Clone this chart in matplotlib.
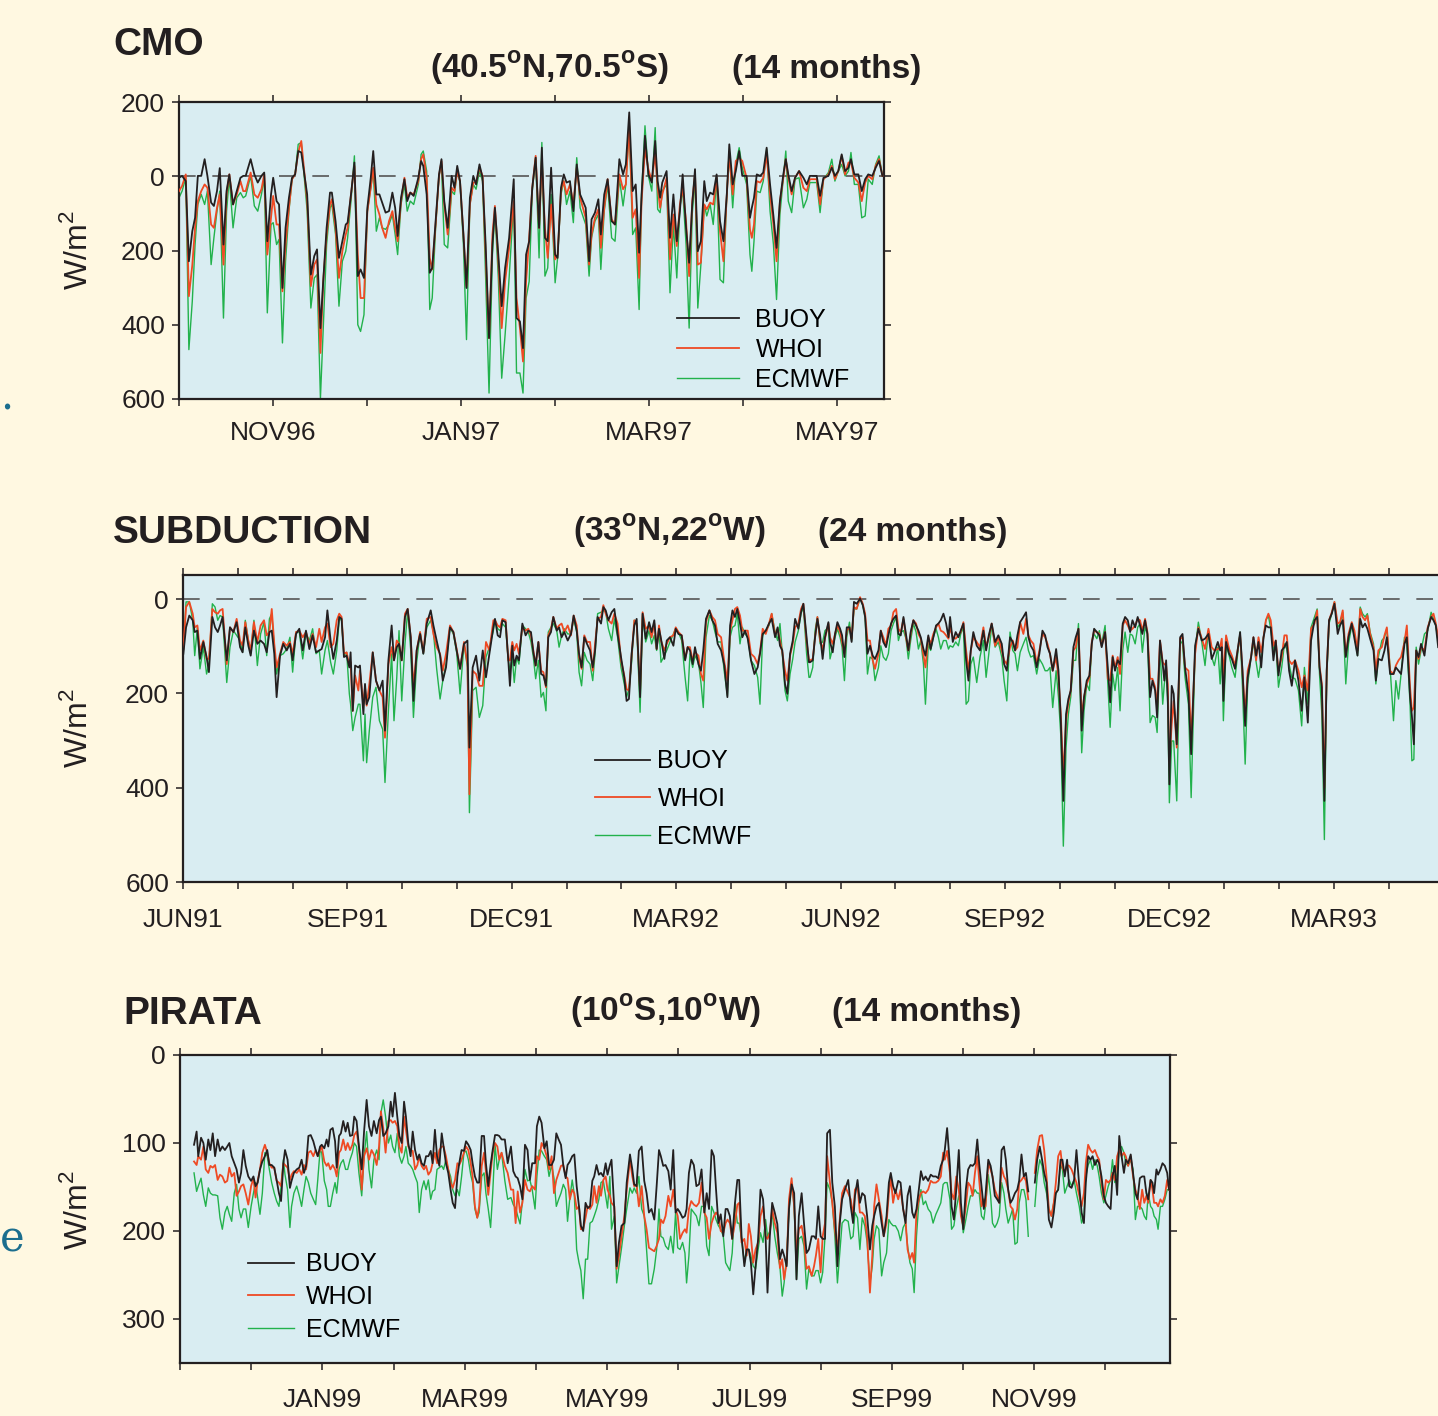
import numpy as np
import matplotlib
matplotlib.use("Agg")
import matplotlib.pyplot as plt

plt.rcParams['font.family'] = ['Liberation Sans', 'DejaVu Sans']
plt.rcParams['mathtext.fontset'] = 'custom'
plt.rcParams['mathtext.rm'] = 'Liberation Sans'
plt.rcParams['mathtext.bf'] = 'Liberation Sans:bold'

BG = '#FFF8E1'
AX_BG = '#D9EDF2'
BLACK = '#231F20'
RED = '#EF4A24'
GREEN = '#22B24C'
TEAL = '#1B6E8E'
MONTH = 30.44

series_names = ['BUOY', 'WHOI', 'ECMWF']

# ---------------- CMO (days from 1 Oct 1996, W/m2, positive = heat loss) ----------------
cmo_day = [0.0,1.0,2.2,3.2,4.3,5.2,6.1,7.2,8.3,9.2, 10.4,11.3,12.3,13.2,14.4,15.4,16.3,17.5,18.7,19.9,
           20.8,21.6,23.2,24.4,25.5,26.7,27.6,28.6,29.8,30.5, 31.6,32.4,33.5,34.5,35.6,36.6,37.6,38.6,39.6,41.5,
           42.7,43.8,44.7,45.8,46.7,47.8,48.9,49.5,50.7,51.8, 52.9,54.0,54.6,55.7,56.8,57.9,58.8,59.9,61.0,62.1,
           62.9,63.9,64.9,65.8,66.9,68.0,69.1,70.0,70.8,71.9, 73.0,73.9,74.9,76.0,
           77.5,78.4,79.1,80.2,81.2,82.0,83.1,84.2,85.0,85.9, 87.0,88.3,89.2,90.1,91.0,92.1,93.1,94.2,95.3,96.2,
           97.3,98.3,99.3,100.4,101.5,102.3,103.4,104.5,105.6,106.9, 108.4,109.3,110.4,111.4,112.4,113.4,114.4,115.5,116.6,117.5,
           118.5,119.4,120.5,121.8,122.6,123.7,124.6,125.5,126.6,127.7, 128.8,129.9,131.7,132.8,133.6,134.7,135.8,136.6,137.7,138.8,
           140.1,141.2,142.6,143.8,144.7,145.8,146.9,147.9,149.0,149.8, 150.9,152.0,153.1,
           154.2,155.0,155.8,156.5,157.9,159.0,160.1,161.2,162.2,163.1, 164.2,165.2,166.2,167.1,168.0,169.0,170.1,170.9,172.0,173.0,
           174.1,175.2,176.3,177.4,178.2,179.3,180.3,181.4,182.4,183.8, 184.9,185.5,186.2,187.1,188.2,189.2,190.3,191.4,192.5,193.5,
           194.6,195.7,196.5,197.3,198.4,199.5,200.8,202.2,203.3,204.3, 206.5,207.6,208.7,210.3,211.4,212.4,213.5,214.6,215.7,216.8,
           217.6,218.7,220.0,221.1,222.2,223.2,224.5,225.6,226.7,227.8]
cmo_buoy = [4,-1,13,229,148,112,-1,-1,-46,-1, 71,80,40,-22,184,40,-5,76,40,4,
            -1,-1,-46,-5,17,-1,-10,175,49,4, 67,76,301,139,58,4,-5,-68,-64,49,
            265,215,197,409,283,139,44,44,121,220, 175,130,125,49,-37,269,251,274,85,4,
            -68,49,49,71,98,94,44,85,161,58, 8,67,44,53,
            4,-41,-28,49,260,247,121,-5,-46,67, 139,-1,31,-28,13,157,301,58,-1,22,
            -32,4,184,436,184,85,211,350,247,166, 8,382,391,463,211,175,31,-50,139,-77,
            166,175,-23,211,220,31,-5,17,13,94, -32,49,85,229,116,98,62,157,49,8,
            121,130,-46,-5,-32,-172,40,22,206,49, -109,-5,17,
            -95,13,58,17,-14,166,49,175,94,-5, 139,233,76,-19,202,175,13,67,44,49,
            -5,121,175,49,-86,22,-14,-68,-1,-1, 112,85,58,-5,-1,-10,-77,22,107,193,
            67,-5,-46,-5,40,4,-14,4,22,-1, -1,53,4,-1,-23,-1,-14,-59,-14,-23,
            -46,-5,-5,40,8,-5,-1,-23,-41,-1]
cmo_whoi = [40,26,-5,323,240,139,67,40,22,31, 130,139,85,49,238,49,-5,76,49,13,
            40,40,-10,49,58,35,-5,211,112,53, 130,130,310,184,85,8,-5,-64,-95,67,
            296,238,224,476,283,157,76,62,139,274, 202,157,139,49,-28,211,328,328,94,31,
            -23,76,103,139,166,121,94,139,175,67, 4,58,44,49,
            13,-46,-59,4,220,251,130,-1,-41,76, 157,31,40,-14,13,157,296,76,17,17,
            -23,-1,211,436,157,80,229,409,283,193, 67,328,409,499,283,166,31,-55,139,-41,
            139,220,76,224,211,40,13,49,22,76, -23,58,112,238,157,112,89,193,85,8,
            116,130,-5,35,22,-136,112,89,274,67, -73,-19,13,
            -59,31,85,49,4,224,103,188,76,31, 121,269,67,-5,238,233,76,89,71,76,
            4,148,229,49,-59,49,-41,-50,-41,4, 143,166,130,13,17,4,-59,49,130,229,
            67,4,-46,4,49,4,-14,31,40,8, 8,76,8,-5,-28,8,-14,-55,-5,-37,
            -37,4,17,67,17,-1,8,-28,-46,-1]
cmo_ecmwf = [58,40,4,467,337,184,76,49,76,40, 238,166,94,40,382,94,4,139,58,44,
             58,53,-1,80,94,49,4,368,130,125, 184,170,449,229,94,8,-5,-86,-91,94,
             355,274,265,598,409,184,85,76,157,350, 229,202,166,67,-55,400,418,373,94,31,
             -14,148,112,139,143,130,103,157,211,76, 22,94,67,76,
             22,-59,-68,-14,359,328,139,-1,-32,184, 193,40,49,-14,17,184,440,76,22,35,
             -14,13,274,584,211,94,274,544,427,274, 67,530,530,584,328,283,40,-50,220,-91,
             269,247,49,287,220,49,13,76,40,125, -50,85,130,269,166,121,103,251,94,22,
             166,175,4,80,22,-131,157,139,359,49, -136,-1,40,
             -131,89,98,40,22,314,130,274,85,35, 184,409,103,4,355,238,76,107,76,130,
             4,278,287,49,-68,85,-32,-77,-23,22, 211,256,175,40,44,13,-73,94,184,332,
             103,4,-68,67,98,8,4,85,62,17, 17,98,8,-10,-46,13,-14,-32,-1,-14,
             -64,22,22,112,107,8,22,-32,-55,-1]
cmo_months = ['', 'NOV96', '', 'JAN97', '', 'MAR97', '', 'MAY97']

# ---------------- SUBDUCTION (days from 1 Jun 1991) ----------------
sub_day = [0.2,1.7,3.5,5.4,6.5,8.0,9.4,11.3,13.1,14.4, 16.3,17.8,19.3,20.6,22.0,24.3,26.1,28.0,29.8,31.7,
           33.1,34.6,36.3,37.6,39.4,41.3,43.1,45.0,46.5,48.0, 49.3,50.7,52.0,53.9,55.7,57.6,59.4,60.9,62.8,64.6,
           66.5,68.3,70.2,72.0,73.9,75.7,77.0,78.9,80.2,82.0, 83.5,85.4,86.8,88.1,89.4,90.9,92.4,93.1,94.3,95.6,
           97.4,98.3,100.2,101.1,102.0,103.5,105.4,107.2,109.1,110.9, 112.2,114.1,115.9,117.2,118.7,120.0,121.5,123.3,124.8,126.5,
           128.0,129.8,131.7,133.5,135.4,137.6,139.1,140.9,142.8,144.3, 146.1,148.3,150.2,152.0,153.9,156.1,158.0,159.1,160.9,162.8,
           164.6,166.5,168.3,170.2,172.4,
           173.3,174.8,176.1,177.4,179.2,180.7,181.6,182.9,184.0,185.3, 186.6,188.5,190.3,191.8,193.3,194.6,195.9,197.4,198.9,200.2,
           201.6,202.9,204.4,205.7,207.6,208.9,210.3,211.8,213.7,215.5, 217.0,218.7,220.0,221.4,222.9,224.4,226.1,227.6,228.9,230.3,
           232.2,233.5,234.8,236.3,238.1,239.6,241.4,243.3,245.1,246.4, 247.7,249.2,250.7,252.0,253.9,255.3,257.0,258.9,260.3,261.8,
           263.1,264.4,265.5,267.4,268.7,270.5,272.4,273.7,275.2,277.0, 278.9,280.3,281.6,283.1,284.4,286.3,287.7,289.0,290.5,292.4,
           294.0,295.5,297.0,298.9,300.7,302.4,303.9,305.2,306.6,307.9, 309.4,310.7,312.2,313.7,315.5,317.4,319.2,320.5,322.0,323.7,
           325.5,327.0,328.9,330.3,331.6,332.9,334.4,335.7,337.2,338.7, 340.0,341.8,343.3,344.6,346.4,347.7,
           348.3,349.8,351.1,352.4,353.9,355.3,356.6,358.5,359.4,360.9, 362.2,363.5,365.0,366.1,367.4,368.7,370.2,371.4,372.7,374.2,
           376.1,377.6,378.9,380.2,381.6,383.1,384.4,386.3,387.6,389.0, 390.5,391.8,393.3,394.6,396.1,397.4,398.7,400.2,401.6,402.9,
           404.2,405.7,407.2,408.5,409.8,411.3,412.4,414.0,415.3,416.8, 418.3,419.6,420.9,422.4,423.9,425.2,426.1,427.6,429.2,430.7,
           432.0,433.5,435.0,436.3,437.6,439.0,440.9,442.7,444.6,446.1, 447.6,449.2,451.1,452.9,454.8,456.1,457.6,459.4,460.9,462.2,
           463.5,465.0,466.8,468.3,469.6,470.9,472.4,474.2,475.7,477.4, 478.9,480.2,481.6,483.1,485.0,486.3,487.6,489.0,490.5,491.8,
           493.1,494.6,495.9,497.4,499.2,500.5,502.0,503.5,504.8,506.1, 507.6,509.0,510.3,512.2,513.7,515.0,516.4,517.7,519.2,520.5,
           522.0,
           523.3,524.8,526.1,527.4,528.9,530.3,531.6,532.9,534.4,535.7, 537.2,538.5,540.0,541.1,542.7,544.2,545.1,546.1,547.0,547.9,
           549.2,550.3,552.0,553.9,555.2,556.6,558.5,560.0,562.2,564.0, 565.9,567.7,569.6,571.4,572.9,574.8,576.1,577.0,577.9,579.4,
           581.1,582.6,584.4,587.2,588.5,590.0,591.4,593.3,594.6,596.1, 597.4,598.9,600.2,601.5,602.9,604.2,605.7,607.0,608.5,610.3,
           611.8,613.1,614.4,615.9,617.7,619.6,621.4,622.9,624.8,626.6, 628.5,630.0,631.3,632.6,634.0,635.3,636.6,638.1,639.6,641.4,
           642.7,644.2,645.9,647.4,649.2,650.7,652.4,653.9,655.2,656.6, 657.9,659.4,661.3,662.6,664.0,665.9,667.4,668.7,670.5,672.4,
           673.7,675.2,676.6,678.5,679.8,681.6,682.6,683.7,685.0,686.3, 687.7,689.6,691.4,693.3,694.6,695.9,697.2]
sub_buoy = [116,60,35,45,70,67,127,91,123,155, 38,60,70,56,38,130,60,70,49,102,
            113,60,99,120,67,95,88,95,113,70, 67,116,208,120,95,109,95,130,74,63,
            109,67,106,77,113,109,106,81,24,88, 127,88,38,42,123,120,145,113,237,141,
            145,141,244,180,223,208,113,173,194,173, 279,130,56,130,102,95,130,38,21,81,
            216,109,74,116,52,24,56,88,120,173, 145,60,70,109,148,95,88,315,145,120,
            173,109,166,116,60,
            42,77,81,45,49,130,184,99,141,120, 130,52,77,67,70,113,141,91,159,162,
            184,81,70,38,67,60,81,70,88,74, 35,67,116,145,81,95,109,145,109,38,
            52,17,24,45,28,21,74,123,166,216, 212,116,56,42,208,31,84,49,70,45,
            106,63,84,127,88,81,99,63,74,77, 130,102,109,138,102,138,152,109,42,24,
            45,56,95,109,141,208,56,24,38,21, 52,81,67,84,130,159,145,116,74,67,
            52,42,81,60,99,109,180,201,116,88, 42,63,28,10,81,134,
            134,130,81,42,77,127,81,49,91,113, 74,49,63,77,123,60,60,91,6,10,
            -1,13,38,116,99,120,127,109,67,91, 102,77,52,42,35,74,77,38,74,109,
            70,45,56,67,81,106,120,77,106,81, 56,52,45,31,52,81,38,91,70,81,
            67,52,130,173,109,70,99,109,67,109, 77,52,91,77,95,138,152,81,91,109,
            77,49,38,28,81,99,109,145,116,67, 77,102,116,152,106,152,258,428,244,212,
            194,102,81,63,279,208,173,162,95,63, 70,77,102,70,145,219,123,152,130,138,
            52,
            38,45,70,45,60,38,56,74,45,74, 208,173,194,251,88,138,173,130,208,393,
            184,201,308,81,74,145,201,329,99,63, 88,84,74,127,113,91,109,102,216,91,
            116,127,148,70,152,269,166,123,81,120, 91,145,81,56,60,60,130,88,162,109,
            102,91,152,184,130,173,237,166,262,88, 45,38,145,187,428,152,45,31,10,74,
            56,45,123,81,52,84,120,42,60,52, 63,84,109,173,127,130,109,81,159,159,
            145,152,159,95,81,208,247,308,109,123, 95,120,63,38,45,56,102]
sub_whoi = [106,17,6,31,60,56,109,88,127,127, 21,28,31,24,21,138,60,70,42,88,
            99,49,88,109,49,91,56,45,77,70, 21,95,145,116,91,99,91,116,70,67,
            81,70,95,74,102,63,91,60,52,102, 95,45,31,38,116,113,141,134,237,162,
            194,152,223,187,226,180,113,173,194,208, 294,138,102,130,88,95,130,31,21,81,
            187,109,70,113,42,38,74,102,116,152, 116,56,70,106,148,91,138,414,152,159,
            184,184,91,109,45,
            45,56,60,42,45,130,130,91,109,95, 116,60,67,63,77,109,141,91,152,155,
            187,77,63,38,63,56,52,70,56,77, 35,56,123,148,77,91,91,152,95,42,
            38,13,31,45,52,31,52,130,162,191, 194,120,45,52,194,28,63,56,81,52,
            106,56,88,109,95,81,77,60,70,77, 127,102,102,130,113,120,159,173,49,24,
            38,45,74,81,134,173,67,45,21,17, 35,67,67,67,116,123,138,113,63,74,
            52,31,77,63,88,113,152,173,120,95, 60,52,21,10,91,130,
            130,127,81,38,88,106,84,52,81,95, 74,56,70,91,116,67,60,84,17,21,
            -4,10,31,88,88,130,148,116,67,81, 99,63,56,28,21,63,70,42,81,109,
            74,45,52,74,84,120,145,81,95,74, 60,52,67,70,77,84,60,81,84,77,
            70,49,109,152,109,81,91,102,60,102, 81,52,99,81,109,130,138,102,88,109,
            102,49,74,42,77,88,95,138,109,74, 81,95,116,152,123,166,244,379,258,219,
            194,109,102,63,251,208,180,166,91,67, 70,74,99,70,169,173,120,145,123,159,
            56,
            45,56,67,63,56,42,45,67,42,70, 169,169,187,230,88,134,138,141,180,347,
            265,216,315,84,81,145,152,301,116,60, 84,106,63,102,109,106,102,84,166,77,
            106,120,141,77,152,247,152,123,81,130, 81,113,81,45,31,45,99,88,152,123,
            77,77,130,138,130,152,187,162,194,63, 52,24,141,180,400,152,45,28,6,52,
            49,24,120,74,49,67,109,21,38,45, 35,74,102,152,109,102,77,60,152,159,
            141,130,123,91,56,187,237,230,109,127, 102,109,60,38,31,52,81]
sub_ecmwf = [109,6,6,45,120,60,148,102,159,138, 10,17,45,35,38,177,102,67,77,88,
             113,45,88,116,45,141,74,49,120,42, 31,102,159,120,116,106,81,155,70,70,
             127,74,88,63,116,109,159,109,88,134, 159,109,42,45,120,113,201,223,279,251,
             223,223,343,244,347,279,208,187,258,276, 389,237,116,258,169,67,216,95,24,109,
             251,134,70,116,60,45,70,148,212,173, 138,60,74,113,201,95,145,453,194,187,
             251,226,123,102,67,
             45,63,67,52,60,130,152,123,177,123, 138,56,63,70,91,123,169,130,208,198,
             237,70,60,52,67,102,77,63,74,74, 42,70,155,184,113,130,138,173,116,31,
             28,24,28,63,88,42,81,145,180,208, 191,134,45,56,240,35,91,67,95,77,
             109,60,134,120,109,91,74,63,70,88, 166,216,116,145,120,134,177,230,81,35,
             45,70,91,91,155,205,81,60,56,31, 95,60,74,81,130,141,166,223,77,67,
             56,31,70,88,52,116,194,216,159,127, 91,67,31,17,116,166,
             166,145,67,38,95,91,67,60,127,102, 81,63,81,102,173,81,49,88,21,21,
             -1,13,38,159,123,127,173,145,99,123, 130,116,67,52,38,88,70,67,84,127,
             88,52,70,106,88,138,223,95,109,81, 63,81,106,88,88,106,99,102,91,99,
             74,60,223,216,138,123,177,123,88,166, 116,56,102,91,123,173,216,70,109,116,
             152,113,95,81,109,123,120,159,127,138, 152,152,145,230,152,208,290,524,315,244,
             208,130,130,52,326,237,180,194,91,74, 84,67,95,56,180,272,159,194,145,237,
             109,
             70,113,74,77,95,60,52,113,60,74, 262,247,251,283,102,223,180,152,223,432,
             301,301,428,88,95,166,223,421,109,49, 91,141,67,123,141,102,180,109,258,99,
             120,145,166,70,187,350,180,123,91,134, 166,127,81,45,35,63,109,91,187,145,
             95,106,138,166,169,194,269,145,223,60, 38,21,159,244,510,166,52,31,6,60,
             52,28,180,95,56,77,120,17,31,38, 31,70,95,180,123,88,81,63,145,258,
             173,212,159,81,95,223,343,340,102,138, 109,74,67,28,42,56,91]
sub_months = ['JUN91', '', '', 'SEP91', '', '', 'DEC91', '', '', 'MAR92', '', '', 'JUN92', '', '',
              'SEP92', '', '', 'DEC92', '', '', 'MAR93', '', '', '']

# ---------------- PIRATA (days from 1 Nov 1998; nan = data gap) ----------------
nan = np.nan
pir_day = [6.0,7.1,7.8,9.0,10.0,11.0,12.1,13.0,14.0,15.0, 16.1,17.1,18.1,19.2,20.2,21.1,22.1,23.2,24.2,25.2,
           26.1,27.1,28.1,29.2,30.4,31.4,32.3,33.2,34.2,35.2, 36.3,37.3,38.2,39.2,40.3,41.3,42.3,43.2,44.2,44.9,
           46.0,47.0,47.7,48.7,49.9,51.0,52.0,53.0,53.9,54.9, 55.9,57.0,58.0,58.9,59.9,60.6,61.7,62.7,63.4,64.3,
           65.3,66.3,67.0,68.0,68.8,69.8,70.8,71.7,72.7,73.7, 74.5,75.5,76.5,77.7,78.7,79.8,80.8,81.9,82.9,84.1,
           85.1,85.9,86.9,87.9,89.1,90.1,90.9,91.9,92.9,93.8, 94.8,95.8,96.6,97.6,98.6,99.5,100.5,101.5,102.3,103.3,
           104.3,105.2,106.2,107.2,108.0,109.0,109.9,110.9,111.9,112.7, 113.7,114.7,115.7,116.6,117.6,118.6,119.4,120.4,121.4,122.3,
           123.3,124.3,125.1,126.1,127.1,127.9,129.0,130.0,130.8,131.8, 132.8,133.7,134.7,135.7,136.5,137.5,
           138.9,140.1,141.5,142.5,143.5,144.4,145.4,146.4,147.5,148.6, 149.6,150.6,151.8,152.6,153.6,154.6,155.8,156.8,157.8,158.9,
           159.9,160.9,161.9,162.9,163.9,164.9,165.7,166.7,167.7,168.6, 169.6,170.6,171.4,172.4,173.4,174.3,175.3,176.3,177.1,178.1,
           179.1,180.0,181.0,182.0,182.8,183.8,184.5,185.7,186.7,187.7, 188.8,190.0,191.0,192.4,193.4,194.2,195.2,196.2,197.4,198.5,
           199.5,200.5,201.6,202.8,203.8,204.8,205.6,206.6,207.6,208.8, 209.8,210.9,211.9,212.8,213.8,214.9,215.9,216.6,217.6,218.6,
           219.7,220.8,221.9,223.0,224.2,225.2,226.2,227.3,228.3,229.2, 230.2,231.2,232.3,233.3,234.1,235.1,236.1,237.3,238.3,239.1,
           240.1,241.3,242.3,243.2,244.1,245.1,246.1,247.2,248.2,249.3, 250.4,251.2,252.2,253.2,254.3,255.4,256.5,257.5,258.3,259.4,
           260.4,261.5,262.6,263.6,264.6,265.8,266.8,267.9,268.9,270.1, 271.1,271.9,272.9,273.9,274.8,275.8,276.7,277.9,278.9,
           280.0,281.1,282.1,283.1,284.3,285.7,286.8,287.8,288.6,289.7, 290.7,291.7,292.8,293.8,295.0,296.0,296.8,297.8,298.8,300.0,
           300.9,302.1,303.1,303.9,304.9,305.9,307.1,308.1,309.2,310.2, 311.1,312.1,313.1,313.9,314.9,315.9,316.8,317.8,318.8,319.9,
           321.0,322.0,323.2,324.2,325.3,326.3,327.0,328.0,329.2,329.9, 330.9,331.9,333.0,333.9,334.9,336.0,337.0,338.0,338.9,339.9,
           340.9,341.7,342.7,343.7,344.4,345.6,346.6,347.4,348.4,349.4, 350.3,351.3,352.3,353.1,354.1,355.1,356.0,357.0,358.0,358.8,
           359.8,360.8,361.7,362.7, 364.0,
           365.5,366.5,367.6,368.6,369.5,370.5,371.5,372.6,373.6,374.5, 375.5,376.5,377.3,378.3,379.3,380.2,381.2,382.3,383.3,384.5,
           385.5,386.5,387.3,388.3,389.3,390.2,391.2,392.2,393.0,394.0, 395.0,395.9,396.9,397.9,398.7,399.7,400.7,401.6,402.6,403.6,
           404.4,405.4,406.5,407.5,408.5,409.4,410.4,411.4,412.3,413.2, 414.0,415.0,415.8,416.5,417.5,418.2,419.2,420.1,421.1,422.1,
           422.9]
pir_buoy = [102,87,115,94,100,119,96,108,89,115, 96,109,104,108,104,100,115,123,130,145,
            134,108,126,138,143,138,149,145,130,121, 115,108,125,125,128,142,157,166,123,108,
            119,151,143,134,130,128,119,134,126,92, 91,98,108,115,104,102,106,96,104,85,
            83,98,128,92,89,75,87,77,92,91, 70,75,104,130,87,51,81,92,75,89,
            74,70,92,89,81,53,70,43,70,92, 100,53,70,100,115,87,108,119,113,123,
            126,115,115,109,123,85,115,126,89,104, 123,134,153,168,174,138,123,108,109,98,
            102,108,123,138,145,145,92,92,123,149, 125,108,91,91,92,96,
            96,123,104,132,138,140,149,164,102,108, 142,123,123,81,70,77,106,98,125,125,
            119,89,96,102,126,140,125,121,115,113, 149,172,194,200,168,174,172,143,138,125,
            136,134,138,123,136,125,119,175,240,213, 194,191,145,113,130,147,149,109,104,143,
            157,179,175,187,149,108,115,126,125,132, 153,108,179,175,179,185,183,175,134,119,
            125,149,147,130,179,157,175,108,115,153, 191,181,206,175,175,183,209,168,142,142,
            206,240,221,221,236,272,240,209,153,164, 208,270,206,168,179,192,232,221,228,240,
            175,147,157,255,183,157,191,225,221,206, 206,209,172,206,209,209,89,85,145,
            172,240,191,164,153,142,172,191,160,142, 168,157,160,183,221,194,183,172,168,191,
            206,183,145,134,149,157,143,145,175,191, 160,149,179,185,175,153,132,142,138,143,
            136,138,138,140,126,119,108,83,126,172, 187,153,108,168,198,153,130,125,126,123,
            96,123,149,175,160,119,126,138,160,164, 168,108,104,119,153,168,164,157,153,143,
            113,138,134,155, nan,
            145,119,104,119,134,145,187,196,179,157, 153,119,119,138,119,149,151,142,108,149,
            179,191,145,115,119,115,125,119,123,138, 160,168,172,175,138,126,159,92,115,134,
            119,123,113,134,157,164,140,138,138,157, 164,142,145,157,130,136,130,123,126,134,
            153]
pir_whoi = [121,125,115,119,104,130,134,126,128,125, 142,136,138,145,143,128,138,134,160,155,
            149,147,157,170,149,140,162,143,130,111, 102,111,123,128,128,143,145,149,123,125,
            128,142,136,132,134,130,136,125,130,111, 109,115,108,115,108,104,121,126,123,130,
            125,130,138,111,108,96,108,100,108,102, 91,87,104,153,115,106,119,108,113,125,
            104,64,83,111,75,74,77,75,81,104, 111,70,85,104,108,109,130,125,115,126,
            130,126,136,132,123,111,123,108,104,104, 115,130,145,151,142,123,125,119,111,104,
            108,123,138,172,185,172,126,111,132,159, 134,111,100,104,119,111,
            126,134,153,153,191,155,179,168,142,153, 155,149,153,115,119,100,106,115,130,115,
            157,142,134,126,125,138,140,164,153,157, 175,172,198,198,185,172,175,170,149,168,
            149,160,142,138,153,160,168,172,243,228, 206,183,153,119,138,149,147,172,149,183,
            198,219,221,223,217,209,187,191,183,160, 172,153,175,183,209,202,198,202,175,166,
            170,172,168,145,179,185,209,191,183,179, 183,200,202,191,187,191,209,191,170,168,
            213,209,228,192,206,236,221,213,183,172, 206,209,202,175,191,202,242,232,255,236,
            164,140,172,225,198,194,209,243,240,251, 240,228,209,247,206,191,115,145,168,
            198,221,187,157,149,157,164,183,153,149, 179,179,183,206,270,228,172,147,164,183,
            206,191,157,138,168,153,164,153,175,187, 221,232,225,236,179,164,157,155,157,153,
            143,145,145,143,138,111,119,109,134,157, 164,138,153,183,194,172,145,149,160,134,
            115,142,172,164,172,123,130,138,153,160, 168,128,138,142,153,172,175,187,175,145,
            142,138,143,164, nan,
            134,108,92,91,108,138,175,183,168,145, 115,109,128,134,125,126,130,138,145,160,
            172,157,123,102,108,111,108,115,119,145, 164,142,145,142,134,142,115,108,115,111,
            115,126,115,138,153,160,175,153,168,160, 168,142,153,168,168,172,164,168,160,142,
            153]
pir_ecmwf = [134,155,149,140,159,172,151,157,159,159, 160,185,198,179,172,181,189,157,147,175,
             185,175,175,196,172,157,145,162,181,157, 111,115,130,145,157,166,172,151,119,136,
             153,196,172,157,149,160,172,153,138,145, 157,164,170,142,108,111,143,153,172,172,
             157,145,157,130,123,119,130,130,119,111, 100,104,134,160,115,87,130,151,119,108,
             119,66,51,70,100,91,104,111,89,115, 123,115,104,123,126,130,138,145,179,153,
             143,153,142,164,155,153,130,128,126,130, 119,130,138,153,160,153,160,138,111,109,
             119,136,145,175,185,179,138,134,157,175, 196,157,102,130,119,111,
             143,164,162,170,174,183,192,166,130,143, 142,153,175,138,108,109,115,119,138,125,
             140,172,164,157,147,153,189,162,142,159, 221,236,245,277,232,232,191,189,183,175,
             164,145,143,160,174,138,198,183,259,240, 219,194,175,151,157,151,157,138,175,183,
             221,260,260,243,221,175,206,208,217,221, 206,225,179,219,221,213,225,259,228,175,
             179,183,194,172,172,217,228,172,179,187, 194,198,206,236,240,245,225,168,191,191,
             209,236,221,221,228,240,243,221,202,213, 187,206,200,179,206,225,240,274,259,228,
             175,145,172,255,209,206,217,266,243,251, 251,245,245,259,247,206,145,153,168,
             206,259,225,191,187,189,209,206,179,185, 221,185,194,213,259,240,209,194,198,251,
             236,225,187,191,194,194,200,211,196,191, 217,236,243,270,206,168,153,170,166,175,
             179,191,181,175,168,147,145,145,164,198, 194,175,160,172,202,187,172,160,160,153,
             157,157,183,187,172,136,160,191,196,191, 183,145,157,175,191,183,175,215,213,168,
             153,153,164,206, nan,
             172,138,119,126,145,157,175,183,168,157, 153,125,130,157,149,142,149,142,157,172,
             191,183,138,125,119,130,119,126,138,157, 168,160,149,142,119,145,134,108,104,111,
             123,126,119,130,187,172,172,175,183,187, 157,172,175,183,187,198,172,172,164,153,
             153]
pir_months = ['', '', 'JAN99', '', 'MAR99', '', 'MAY99', '', 'JUL99', '', 'SEP99', '', 'NOV99', '']

fig = plt.figure(figsize=(14.38, 14.16), dpi=100, facecolor=BG)
W, H = 1438.0, 1416.0


def px_rect(left, top, right, bottom):
    return [left / W, 1 - bottom / H, (right - left) / W, (bottom - top) / H]


def panel(rect, day, buoy, whoi, ecmwf, xmax, months, ylim, yticks, zero_line, xpad,
          leg_anchor, leg_handle, leg_pad, leg_space):
    ax = fig.add_axes(rect)
    ax.set_facecolor(AX_BG)
    if zero_line:
        ax.axhline(0, color='#555555', lw=1.2, dashes=(10, 10), zorder=1)
    l3, = ax.plot(day, ecmwf, color=GREEN, lw=1.0, zorder=2)
    l2, = ax.plot(day, whoi, color=RED, lw=1.3, zorder=3)
    l1, = ax.plot(day, buoy, color=BLACK, lw=1.3, zorder=4)
    ax.set_xlim(0, xmax)
    ax.set_ylim(*ylim)
    ticks = [k * MONTH for k in range(len(months))]
    ax.set_xticks(ticks)
    ax.set_xticklabels(months)
    ax.set_yticks(yticks)
    ax.set_yticklabels([str(abs(v)) for v in yticks])
    ax.tick_params(axis='both', direction='out', length=5, width=1.1, colors=BLACK,
                   top=True, right=True, labelsize=19)
    ax.tick_params(axis='x', pad=xpad)
    ax.tick_params(axis='y', pad=5)
    for s in ax.spines.values():
        s.set_linewidth(1.6)
        s.set_color(BLACK)
    ax.legend([l1, l2, l3], series_names, loc='upper left', bbox_to_anchor=leg_anchor,
              frameon=False, fontsize=18, handlelength=leg_handle, handletextpad=leg_pad,
              labelspacing=leg_space, borderpad=0, borderaxespad=0)
    return ax


panel(px_rect(179, 102, 884, 399), cmo_day, cmo_buoy, cmo_whoi, cmo_ecmwf, 228.3, cmo_months,
      (600, -200), [-200, 0, 200, 400, 600], True, 11, (0.706, 0.308), 2.5, 0.65, 0.25)
panel(px_rect(183, 575, 1499, 882), sub_day, sub_buoy, sub_whoi, sub_ecmwf, 731, sub_months,
      (600, -51), [0, 200, 400, 600], True, 14, (0.313, 0.432), 2.2, 0.3, 0.55)
panel(px_rect(180, 1055, 1170, 1363), pir_day, pir_buoy, pir_whoi, pir_ecmwf, 423.3, pir_months,
      (350, 0), [0, 100, 200, 300], False, 13, (0.0687, 0.359), 1.85, 0.45, 0.35)

# titles: (text, left px, baseline px, size)
titles = [('CMO', 113, 55, 28), ('(40.5$^{\\mathbf{o}}$N,70.5$^{\\mathbf{o}}$S)', 430, 78, 24),
          ('(14 months)', 732, 78, 24),
          ('SUBDUCTION', 113, 543, 28), ('(33$^{\\mathbf{o}}$N,22$^{\\mathbf{o}}$W)', 573, 541, 24),
          ('(24 months)', 818, 541, 24),
          ('PIRATA', 123, 1024, 28), ('(10$^{\\mathbf{o}}$S,10$^{\\mathbf{o}}$W)', 570, 1021, 24),
          ('(14 months)', 832, 1021, 24)]
for txt, x, y, size in titles:
    fig.text(x / W, 1 - y / H, txt, weight='bold', fontsize=size,
             color=BLACK, ha='left', va='baseline')

for yc in (250, 728, 1210):
    fig.text(78 / W, 1 - yc / H, 'W/m$^{2}$', rotation=90, fontsize=23, color=BLACK,
             ha='center', va='center')

# fragments of the neighbouring page column at the left edge
fig.text(0, 1 - 410 / H, '.', family='DejaVu Serif', fontsize=30, color=TEAL)
fig.text(0, 1 - 1252 / H, 'e', family='DejaVu Serif', fontsize=30, color=TEAL)

fig.savefig('out.png', dpi=100, facecolor=BG)
